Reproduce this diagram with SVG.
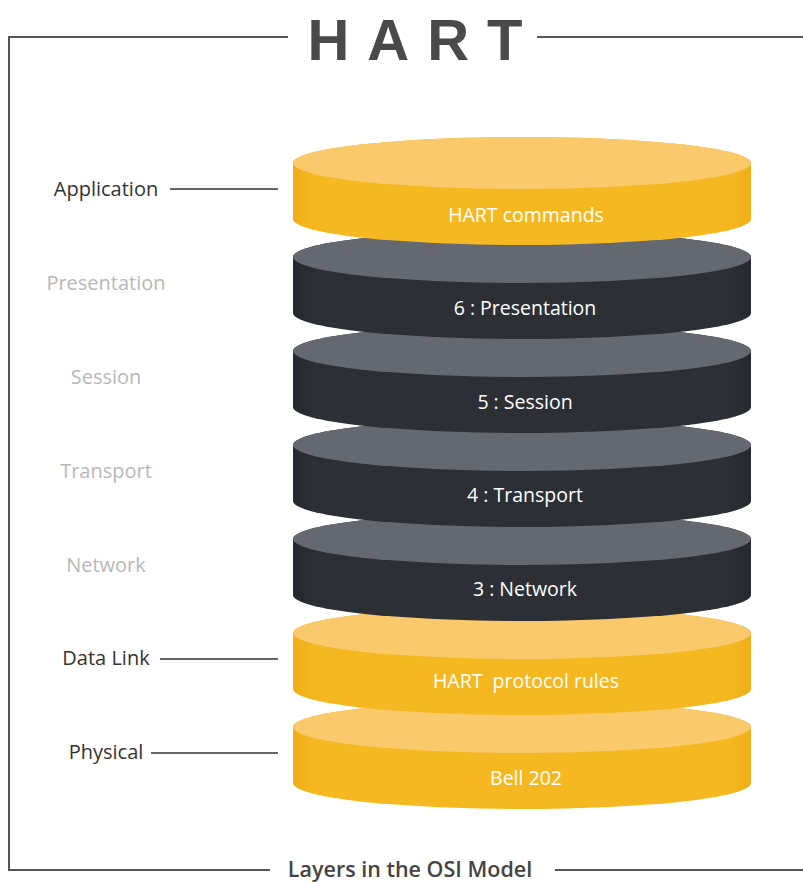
<svg xmlns="http://www.w3.org/2000/svg" width="803" height="882" viewBox="0 0 803 882">
<defs>
<style>
.frame{stroke:#555;stroke-width:2;fill:none}
.lead{stroke:#333;stroke-width:1.6}
.lbl{font-family:"Open Sans","Liberation Sans",sans-serif;font-size:20px;text-anchor:middle}
.on{fill:#333}
.off{fill:#b8b8b8}
.dt{font-family:"Open Sans","Liberation Sans",sans-serif;font-size:19.5px;fill:#fff;text-anchor:middle;white-space:pre}
.ys{fill:url(#yside)}
.yt{fill:#FAC96C}
.ds{fill:url(#dside)}
.dtop{fill:#646870}
</style>
<linearGradient id="yside" x1="0" x2="1" y1="0" y2="0">
<stop offset="0" stop-color="#F0AE18"/><stop offset="0.05" stop-color="#F6B820"/><stop offset="0.95" stop-color="#F6B820"/><stop offset="1" stop-color="#F0AE18"/>
</linearGradient>
<linearGradient id="dside" x1="0" x2="1" y1="0" y2="0">
<stop offset="0" stop-color="#25282E"/><stop offset="0.05" stop-color="#2C2F36"/><stop offset="0.95" stop-color="#2C2F36"/><stop offset="1" stop-color="#25282E"/>
</linearGradient>
</defs>
<rect width="803" height="882" fill="#fff"/>
<g id="frame">
<path class="frame" d="M288 37 H9 V870 H270"/>
<path class="frame" d="M537 37 H803"/>
<path class="frame" d="M555 870 H803"/>
<text x="424" y="60" font-family="'Liberation Sans',Arial,sans-serif" font-weight="bold" font-size="58" fill="#4a4a4a" text-anchor="middle" letter-spacing="18">HART</text>
<text x="410" y="877" font-family="'Open Sans','Liberation Sans',sans-serif" font-weight="600" font-size="21.5" fill="#444" text-anchor="middle">Layers in the OSI Model</text>
</g>
<g id="connectors">
<line class="lead" x1="170" y1="189" x2="278" y2="189"/>
<line class="lead" x1="160" y1="659" x2="278" y2="659"/>
<line class="lead" x1="151" y1="753" x2="278" y2="753"/>
</g>
<g id="labels">
<text class="lbl on" x="106" y="196">Application</text>
<text class="lbl off" x="106" y="290">Presentation</text>
<text class="lbl off" x="106" y="384">Session</text>
<text class="lbl off" x="106" y="478">Transport</text>
<text class="lbl off" x="106" y="572">Network</text>
<text class="lbl on" x="106" y="665">Data Link</text>
<text class="lbl on" x="106" y="759">Physical</text>
</g>
<g id="disk-physical">
<path class="ys" d="M293 727 A229 26 0 0 1 751 727 V783 A229 26 0 0 1 293 783 Z"/>
<ellipse class="yt" cx="522" cy="727" rx="229" ry="26"/>
<text class="dt" x="526" y="785">Bell 202</text>
</g>
<g id="disk-datalink">
<path class="ys" d="M293 633 A229 26 0 0 1 751 633 V689 A229 26 0 0 1 293 689 Z"/>
<ellipse class="yt" cx="522" cy="633" rx="229" ry="26"/>
<text class="dt" x="526" y="688" xml:space="preserve">HART  protocol rules</text>
</g>
<g id="disk-network">
<path class="ds" d="M293 539 A229 26 0 0 1 751 539 V595 A229 26 0 0 1 293 595 Z"/>
<ellipse class="dtop" cx="522" cy="539" rx="229" ry="26"/>
<text class="dt" x="525" y="596">3 : Network</text>
</g>
<g id="disk-transport">
<path class="ds" d="M293 445 A229 26 0 0 1 751 445 V501 A229 26 0 0 1 293 501 Z"/>
<ellipse class="dtop" cx="522" cy="445" rx="229" ry="26"/>
<text class="dt" x="525" y="502">4 : Transport</text>
</g>
<g id="disk-session">
<path class="ds" d="M293 351 A229 26 0 0 1 751 351 V407 A229 26 0 0 1 293 407 Z"/>
<ellipse class="dtop" cx="522" cy="351" rx="229" ry="26"/>
<text class="dt" x="525" y="409">5 : Session</text>
</g>
<g id="disk-presentation">
<path class="ds" d="M293 257 A229 26 0 0 1 751 257 V313 A229 26 0 0 1 293 313 Z"/>
<ellipse class="dtop" cx="522" cy="257" rx="229" ry="26"/>
<text class="dt" x="525" y="315">6 : Presentation</text>
</g>
<g id="disk-application">
<path class="ys" d="M293 163 A229 26 0 0 1 751 163 V219 A229 26 0 0 1 293 219 Z"/>
<ellipse class="yt" cx="522" cy="163" rx="229" ry="26"/>
<text class="dt" x="526" y="222">HART commands</text>
</g>
</svg>
